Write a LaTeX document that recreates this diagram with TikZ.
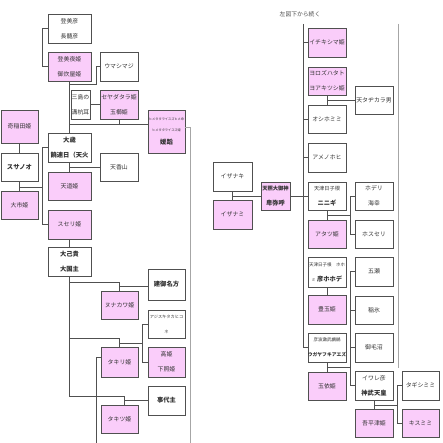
\documentclass[tikz,border=0pt]{standalone}
\usepackage{fontspec}
\setmainfont{Noto Sans CJK JP}
\usetikzlibrary{calc}
\definecolor{pk}{RGB}{250,205,250}
\definecolor{ln}{RGB}{80,80,80}
\tikzset{
 bx/.style={draw=ln, line width=0.6pt, fill=white, inner sep=0pt, align=center, font=\fontsize{5.9}{15}\selectfont, text=black!80},
 pbx/.style={bx, fill=pk},
 cn/.style={draw=ln, line width=0.6pt},
 longln/.style={draw=black!35, line width=1pt},
}
\newcommand\mkbox[7]{\node[#1, minimum width={(#5-#3)*1pt}, minimum height={(#6-#4)*1pt}] (#2) at ({(#3+#5)/2},{(#4+#6)/2}) {#7};}
\newcommand\bd[1]{{\fontsize{6.3}{15}\selectfont\bfseries #1}}
\newcommand\sm[1]{{\fontsize{4}{15}\selectfont #1}}
\begin{document}
\begin{tikzpicture}[x=1pt,y=-1pt]
\path[fill=white] (0,0) rectangle (443,443);
\useasboundingbox (0,0) rectangle (443,443);
% ---------- left part ----------
\mkbox{bx}{A1}{48}{14}{91}{43}{登美彦\\長髄彦}
\mkbox{pbx}{A2}{48}{52}{91}{81}{登美夜姫\\御炊屋姫}
\mkbox{bx}{A3}{100}{52}{138}{81}{ウマシマジ}
\mkbox{bx}{A4}{71}{90}{90}{119}{三島の\\溝杭耳}
\mkbox{pbx}{A5}{100}{90}{138}{119}{セヤダタラ姫\\玉櫛姫}
\mkbox{pbx}{A6}{148}{110}{185}{153}{{\fontsize{3.2}{9}\selectfont ヒメタタライスズヒメ命}\\[-4pt]{\fontsize{3.2}{9}\selectfont ヒメタタライスズ姫}\\[-2pt]\bd{媛蹈}}
\mkbox{pbx}{A7}{1}{110}{38}{143}{奇稲田姫}
\mkbox{bx}{A8}{1}{153}{38}{181}{\bd{スサノオ}}
\mkbox{pbx}{A9}{1}{191}{38}{219}{大市姫}
\mkbox{bx}{A10}{48}{133}{91}{162}{\bd{大歳}\\\bd{饒速日（天火}}
\mkbox{bx}{A11}{100}{153}{138}{181}{天香山}
\mkbox{pbx}{A12}{48}{172}{91}{200}{天道姫}
\mkbox{pbx}{A13}{48}{210}{91}{239}{スセリ姫}
\mkbox{bx}{A14}{48}{247}{91}{276}{\bd{大己貴}\\\bd{大国主}}
\mkbox{bx}{A15}{148}{269}{185}{300}{\bd{建御名方}}
\mkbox{pbx}{A16}{101}{291}{138}{319}{ヌナカワ姫}
\mkbox{bx}{A17}{148}{310}{185}{338}{{\fontsize{4.2}{15}\selectfont アジスキタカヒコ}\\{\fontsize{4.2}{15}\selectfont ネ}}
\mkbox{pbx}{A18}{148}{347}{185}{377}{高姫\\下照姫}
\mkbox{pbx}{A19}{101}{347}{138}{377}{タキリ姫}
\mkbox{bx}{A20}{148}{386}{185}{415}{\bd{事代主}}
\mkbox{pbx}{A21}{101}{405}{138}{433}{タキツ姫}
% connectors left
\draw[cn] (A1.west) -- ++(-5,0) |- (A2.west);
\draw[cn] (A2.south) -- (A10.north);
\draw[cn] (A2.south |- 0,84) -| ($(A3.west)+(-3,0)$) -- (A3.west);
\draw[cn] (A4.east) -- (A5.west);
\draw[cn] (A5.south) -- (A5.south |- 0,124);
\draw[cn] (A2.south |- 0,124) -- (A6.west |- 0,124);
\draw[longln] (A6.east |- 0,128) -| (190,443);
\draw[cn] (A7.south) -- (A8.north);
\draw[cn] (A8.south) -- (A9.north);
\draw[cn] (A8.south |- 0,187) -- (43,187);
\draw[cn] (A10.west) -- ++(-5,0) |- (A13.west);
\draw[cn] (A10.south) -- (A12.north);
\draw[cn] (A10.south |- A11.west) -- (A11.west);
\draw[cn] (A13.south) -- (A14.north);
\draw[cn] (A14.south) -- (A14.south |- 0,396) -- (124,396) -- (124,0 |- A21.north);
\draw[cn] (A14.south |- 0,282) -| (A16.north);
\draw[cn] (A16.north |- 0,286) -- (A15.west |- 0,286);
\draw[cn] (A14.south |- 0,338) -| (A19.north);
\draw[cn] (A19.north |- 0,343) -- (143,343);
\draw[cn] (A17.west) -- ++(-5,0) |- (A18.west);
\draw[cn] (124,400) -- (A20.west |- 0,400);
\draw[cn] (A19.west |- 0,357) -- (96,357) -- (96,443);
% ---------- right part ----------
\node[font=\fontsize{5.8}{7}\selectfont, text=black!70] (T) at (300,14) {左図下から続く};
\mkbox{bx}{B1}{213}{162}{252}{191}{イザナキ}
\mkbox{pbx}{B2}{213}{200}{252}{229}{イザナミ}
\mkbox{pbx}{B3}{261}{182}{290}{210}{{\fontsize{5.3}{15}\selectfont\bfseries 天照大御神}\\\bd{卑弥呼}}
\mkbox{pbx}{C1}{308}{28}{346}{57}{イチキシマ姫}
\mkbox{pbx}{C2}{308}{67}{346}{95}{ヨロズハタト\\ヨアキツシ姫}
\mkbox{bx}{C3}{308}{105}{346}{133}{オシホミミ}
\mkbox{bx}{C4}{308}{143}{346}{172}{アメノホヒ}
\mkbox{bx}{C5}{308}{182}{346}{210}{{\fontsize{5.2}{15}\selectfont 天津日子根}\\\bd{ニニギ}}
\mkbox{pbx}{C6}{308}{220}{346}{248}{アタツ姫}
\mkbox{bx}{C7}{308}{257}{346}{287}{{\fontsize{4.5}{15}\selectfont 天津日子根　ホホ}\\\sm{ミ}\ \bd{彦ホホデ}}
\mkbox{pbx}{C8}{308}{295}{346}{324}{豊玉姫}
\mkbox{bx}{C9}{308}{333}{346}{362}{{\fontsize{4.5}{15}\selectfont 彦波瀲武鸕鷀}\\{\fontsize{4.8}{15}\selectfont\bfseries ウガヤフキアエズ}}
\mkbox{pbx}{C10}{308}{372}{346}{400}{玉依姫}
\mkbox{bx}{D1}{355}{86}{393}{114}{天タヂカラ男}
\mkbox{bx}{D2}{355}{182}{393}{210}{ホデリ\\海幸}
\mkbox{bx}{D3}{355}{220}{393}{248}{ホスセリ}
\mkbox{bx}{D4}{355}{257}{393}{286}{五瀬}
\mkbox{bx}{D5}{355}{296}{393}{324}{稲氷}
\mkbox{bx}{D6}{355}{333}{393}{362}{御毛沼}
\mkbox{bx}{D7}{355}{371}{393}{400}{イワレ彦\\\bd{神武天皇}}
\mkbox{pbx}{D8}{355}{409}{393}{437}{吾平津姫}
\mkbox{bx}{E1}{402}{371}{439}{400}{タギシミミ}
\mkbox{pbx}{E2}{402}{409}{439}{437}{キスミミ}
% connectors right
\draw[cn] (B1.south) -- (B2.north);
\draw[cn] (B1.south |- B3.west) -- (B3.west);
\draw[cn] (B3.east) -- (C5.west);
\draw[cn] (303,24) -- (303,0 |- C9.west) -- (C9.west);
\draw[cn] (303,0 |- C1.west) -- (C1.west);
\draw[cn] (303,0 |- C3.west) -- (C3.west);
\draw[cn] (303,0 |- C4.west) -- (C4.west);
\draw[cn] (C2.south -| 327,0) -- (C3.north -| 327,0);
\draw[cn] (327,0 |- D1.west) -- (D1.west);
\draw[cn] (C5.south -| 327,0) -- (C6.north -| 327,0);
\draw[cn] (327,215) -- (351,215);
\draw[cn] (D2.west) -- ++(-4,0) |- (D3.west);
\draw[cn] (C7.south -| 327,0) -- (C8.north -| 327,0);
\draw[cn] (C9.south -| 327,0) -- (C10.north -| 327,0);
\draw[cn] (327,367) -- (351,367);
\draw[cn] (D4.west) -- ++(-4,0) |- (D7.west);
\draw[cn] (351,0 |- D5.west) -- (D5.west);
\draw[cn] (351,0 |- D6.west) -- (D6.west);
\draw[cn] (D7.south) -- (D8.north);
\draw[cn] (D7.south |- 0,405) -- (398,405);
\draw[cn] (E1.west) -- ++(-4,0) |- (E2.west);
\draw[longln] (398,24) -- (398,368);
\end{tikzpicture}
\end{document}
